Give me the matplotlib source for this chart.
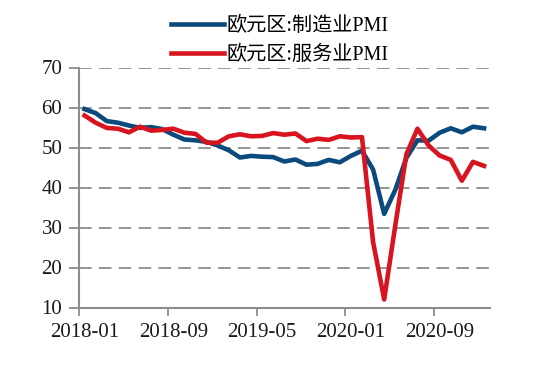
import matplotlib.pyplot as plt
import numpy as np

plt.rcParams['font.family'] = ['Liberation Serif', 'Noto Sans CJK SC']

# months 2018-01 .. 2021-01
months = ['2018-01', '2018-02', '2018-03', '2018-04', '2018-05', '2018-06',
          '2018-07', '2018-08', '2018-09', '2018-10', '2018-11', '2018-12',
          '2019-01', '2019-02', '2019-03', '2019-04', '2019-05', '2019-06',
          '2019-07', '2019-08', '2019-09', '2019-10', '2019-11', '2019-12',
          '2020-01', '2020-02', '2020-03', '2020-04', '2020-05', '2020-06',
          '2020-07', '2020-08', '2020-09', '2020-10', '2020-11', '2020-12',
          '2021-01']

manuf = [59.6, 58.6, 56.6, 56.2, 55.5, 54.9, 55.1, 54.6, 53.2, 52.0, 51.8, 51.4,
         50.5, 49.3, 47.5, 47.9, 47.7, 47.6, 46.5, 47.0, 45.7, 45.9, 46.9, 46.3,
         47.9, 49.2, 44.5, 33.4, 39.4, 47.4, 51.8, 51.7, 53.7, 54.8, 53.8, 55.2,
         54.8]

services = [58.0, 56.2, 54.9, 54.7, 53.8, 55.2, 54.2, 54.4, 54.7, 53.7, 53.4, 51.2,
            51.2, 52.8, 53.3, 52.8, 52.9, 53.6, 53.2, 53.5, 51.6, 52.2, 51.9, 52.8,
            52.5, 52.6, 26.4, 12.0, 30.5, 48.3, 54.7, 50.5, 48.0, 46.9, 41.7, 46.4,
            45.4]

label_months = ['2018-01', '2018-09', '2019-05', '2020-01', '2020-09']

fig = plt.figure(figsize=(5.35, 3.65), dpi=100)
ax = fig.add_axes([79 / 535, 1 - 307.5 / 365, (489.6 - 79) / 535, 240 / 365])

x = np.arange(len(months))
ax.plot(x, manuf, color='#0b4a7d', lw=3.3, label='欧元区:制造业PMI')
ax.plot(x, services, color='#d7141f', lw=3.3, label='欧元区:服务业PMI')

ax.set_xlim(-0.5, len(months) - 0.5)
ax.set_ylim(10, 70)
ax.set_yticks(range(10, 71, 10))

pos = [months.index(m) for m in label_months]
ax.set_xticks(pos)
ax.set_xticklabels(label_months)
ax.set_xticks([p - 0.5 for p in pos], minor=True)
ax.tick_params(axis='x', which='major', length=0, pad=11, labelsize=15, labelcolor='#1a1a1a')
ax.tick_params(axis='x', which='minor', length=6, width=1.3, color='#8c8c8c')
ax.tick_params(axis='y', length=7, width=1.3, color='#8c8c8c', pad=5, labelsize=15, labelcolor='#1a1a1a')

for v in range(20, 71, 10):
    ax.axhline(v, color='#8c8c8c', lw=1.3, ls=(0, (7, 4)), zorder=0)

for s in ['top', 'right']:
    ax.spines[s].set_visible(False)
for s in ['left', 'bottom']:
    ax.spines[s].set_color('#8c8c8c')
    ax.spines[s].set_linewidth(1.5)

fig.legend(loc='upper center', bbox_to_anchor=(280 / 535, 1.005), frameon=False,
           fontsize=14.5, handlelength=2.6, handletextpad=0.15, labelspacing=0.5)

fig.savefig('out.png', dpi=100)
